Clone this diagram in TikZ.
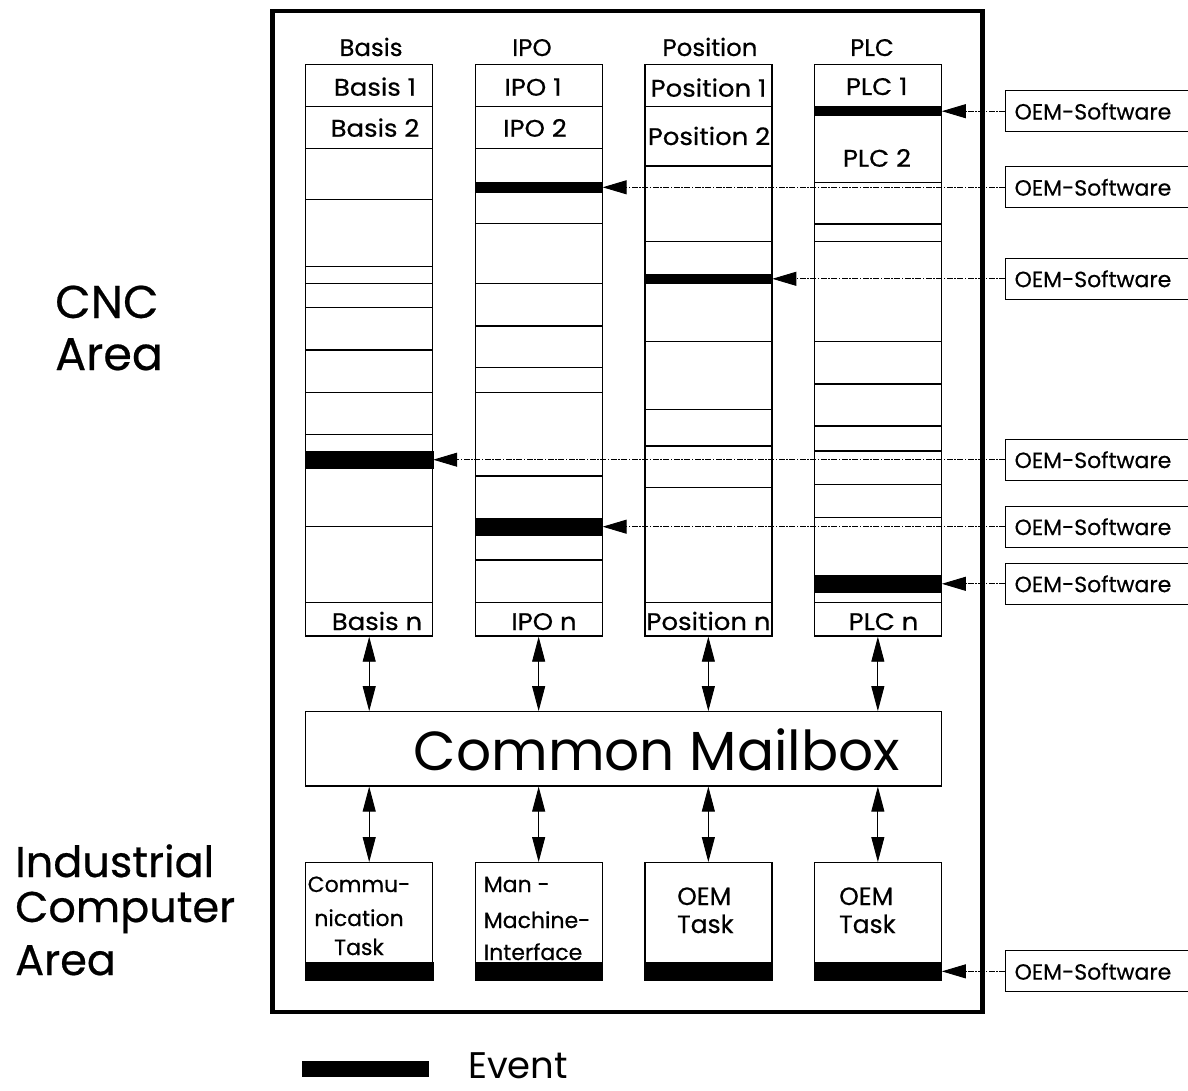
\documentclass[tikz,border=0pt]{standalone}
\usepackage{fontspec}
\setmainfont{Poppins}
\newfontfamily\cellf{Poppins}[FakeStretch=1.08, FakeBold=0.5]
\newfontfamily\headf{Poppins}[FakeStretch=1.02, FakeBold=0.5]
\newfontfamily\plainf{Poppins}[FakeBold=0.5]
\usetikzlibrary{arrows.meta}
\begin{document}
\begin{tikzpicture}[x=1pt,y=-1pt,
  col/.style={draw, line width=1.3pt, fill=white, minimum width=127pt, minimum height=571.7pt, inner sep=0pt},
  sep/.style={line width=1.2pt},
  evt/.style={fill=black, draw=black, line width=0.5pt, minimum width=127.5pt, inner sep=0pt},
  oem/.style={draw, line width=1.2pt, anchor=west, minimum width=200pt, minimum height=41pt, text width=182pt, align=left, inner xsep=9pt, font=\plainf\fontsize{22}{26}\selectfont},
  oemarr/.style={line width=0.9pt, dash pattern=on 6pt off 1.5pt on 1.5pt off 1.5pt, -{Triangle[length=24pt,width=14pt]}},
  dbl/.style={line width=0.9pt, {Triangle[length=25pt,width=13pt]}-{Triangle[length=25pt,width=13pt]}},
  task/.style={draw, line width=1.3pt, minimum width=127pt, minimum height=117.3pt, inner sep=0pt},
  hlbl/.style={anchor=base, inner sep=0pt, font=\headf\fontsize{24}{28}\selectfont},
  lbl/.style={anchor=base, inner sep=0pt, font=\cellf\fontsize{24}{28}\selectfont},
  tclbl/.style={anchor=base, inner sep=0pt, font=\plainf\fontsize{22}{26}\selectfont},
  tlbl/.style={anchor=base west, inner sep=0pt, font=\plainf\fontsize{22}{26}\selectfont},
  olbl/.style={anchor=base west, inner sep=0pt, font=\plainf\fontsize{25}{28}\selectfont},
  big/.style={anchor=base west, inner sep=0pt, font=\plainf\fontsize{46}{50}\selectfont},
  bigb/.style={anchor=base west, inner sep=0pt, font=\plainf\fontsize{43}{47}\selectfont}
]
\useasboundingbox (0,0) rectangle (1188,1091);

% outer frame
\node[draw, line width=4.5pt, minimum width=710pt, minimum height=1001pt, inner sep=0pt] (frame) at (627.5,511.5) {};

% left labels
\node[big] (cnc1) at (55,318) {CNC};
\node[big] (cnc2) at (55,370) {Area};
\node[bigb] (ind1) at (15,877) {Industrial};
\node[bigb] (ind2) at (15,922) {Computer};
\node[bigb] (ind3) at (15,975) {Area};

% headers
\node[hlbl] (hbasis) at (371,56) {Basis};
\node[hlbl] (hipo) at (532,56) {IPO};
\node[hlbl] (hpos) at (710,56) {Position};
\node[hlbl] (hplc) at (872,56) {PLC};

% columns
\node[col] (basis) at (369.2,350.2) {};
\node[col] (ipo) at (538.65,350.2) {};
\node[col] (pos) at (708.35,350.2) {};
\node[col] (plc) at (877.85,350.2) {};

% separators
\foreach \y in {106.7,148.3,199.3,266.7,283.3,307.7,350,392.7,434.3,526.7,602.7}
  \draw[sep] (305.7,\y) -- (432.7,\y);
\foreach \y in {106.7,148.3,223.3,283.3,326,367.3,392.7,476,560,602.7}
  \draw[sep] (475,\y) -- (602.3,\y);
\foreach \y in {106.7,166,241.7,341.7,409.3,446,487.7,602.7}
  \draw[sep] (645,\y) -- (771.7,\y);
\foreach \y in {182.7,224,241.7,341.7,384,426,451,484.3,517.3,602.7}
  \draw[sep] (814,\y) -- (941.7,\y);

% event bars in columns
\node[evt, minimum height=17.3pt] (eb) at (369.2,459.7) {};
\node[evt, minimum height=10pt] (ei1) at (538.65,187.3) {};
\node[evt, minimum height=16.7pt] (ei2) at (538.65,526.7) {};
\node[evt, minimum height=9pt] (ep) at (708.35,278.8) {};
\node[evt, minimum height=9pt] (el1) at (877.85,111.2) {};
\node[evt, minimum height=17.7pt] (el2) at (877.85,583.8) {};

% cell labels
\node[lbl] (b1) at (375,95.7) {Basis 1};
\node[lbl] (b2) at (375,136.7) {Basis 2};
\node[lbl] (i1) at (533,95.7) {IPO 1};
\node[lbl] (i2) at (535,136.7) {IPO 2};
\node[lbl] (p1) at (708.5,96.7) {Position 1};
\node[lbl] (p2) at (709,145) {Position 2};
\node[lbl] (l1) at (876.7,95) {PLC 1};
\node[lbl] (l2) at (877,166.7) {PLC 2};
\node[lbl] (bn) at (377,630) {Basis n};
\node[lbl] (in) at (544,630) {IPO n};
\node[lbl] (pn) at (708.5,630) {Position n};
\node[lbl] (ln) at (883.5,630) {PLC n};

% mailbox
\node[draw, line width=1.2pt, minimum width=636pt, minimum height=74.3pt, inner sep=0pt] (mbox) at (623.7,748.85) {};
\node[anchor=base, inner sep=0pt, font=\fontsize{55}{60}\selectfont] (mtext) at (657,770) {Common Mailbox};

% task boxes
\node[task] (t1) at (369.2,921.35) {};
\node[task] (t2) at (538.65,921.35) {};
\node[task] (t3) at (708.35,921.35) {};
\node[task] (t4) at (877.85,921.35) {};
\node[evt, minimum height=17.3pt] (tb1) at (369.2,971.35) {};
\node[evt, minimum height=17.3pt] (tb2) at (538.65,971.35) {};
\node[evt, minimum height=17.3pt] (tb3) at (708.35,971.35) {};
\node[evt, minimum height=17.3pt] (tb4) at (877.85,971.35) {};

\node[tclbl] (t1a) at (359,892) {Commu-};
\node[tclbl] (t1b) at (359,926) {nication};
\node[tclbl] (t1c) at (359,955) {Task};
\node[tlbl] (t2a) at (483.6,892) {Man -};
\node[tlbl] (t2b) at (483.6,928) {Machine-};
\node[tlbl] (t2c) at (483.6,960) {Interface};
\node[olbl] (t3a) at (677,905) {OEM};
\node[olbl] (t3b) at (677,933) {Task};
\node[olbl] (t4a) at (839,905) {OEM};
\node[olbl] (t4b) at (839,933) {Task};

% double arrows
\foreach \c/\t in {basis/t1,ipo/t2,pos/t3,plc/t4}{
  \draw[dbl] (\c.south) -- (\c.south |- mbox.north);
  \draw[dbl] (\t.north |- mbox.south) -- (\t.north);
}

% OEM software boxes
\node[oem] (o1) at (1005,111.2) {OEM-Software};
\node[oem] (o2) at (1005,187.3) {OEM-Software};
\node[oem] (o3) at (1005,278.8) {OEM-Software};
\node[oem] (o4) at (1005,459.7) {OEM-Software};
\node[oem] (o5) at (1005,526.7) {OEM-Software};
\node[oem] (o6) at (1005,583.8) {OEM-Software};
\node[oem] (o7) at (1005,971.35) {OEM-Software};

\draw[oemarr] (o1.west) -- (el1.east);
\draw[oemarr] (o2.west) -- (ei1.east);
\draw[oemarr] (o3.west) -- (ep.east);
\draw[oemarr] (o4.west) -- (eb.east);
\draw[oemarr] (o5.west) -- (ei2.east);
\draw[oemarr] (o6.west) -- (el2.east);
\draw[oemarr] (o7.west) -- (tb4.east);

% legend
\node[fill=black, minimum width=127.6pt, minimum height=16.6pt, inner sep=0pt] (legbar) at (365.5,1069) {};
\node[anchor=base west, inner sep=0pt, font=\fontsize{37}{40}\selectfont] (legtext) at (468,1078) {Event};
\end{tikzpicture}
\end{document}
